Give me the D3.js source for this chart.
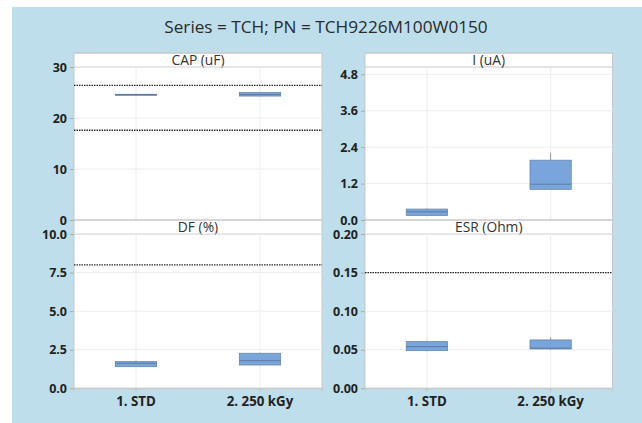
<!DOCTYPE html>
<html><head><meta charset="utf-8">
<script src="https://cdn.jsdelivr.net/npm/d3@7"></script>
<style>
html,body{margin:0;padding:0;background:#fff;}
svg{display:block;}
</style></head>
<body>
<script>
const title = "Series = TCH; PN = TCH9226M100W0150";
const categories = ["1. STD", "2. 250 kGy"];
const panelNames = ["CAP (uF)", "I (uA)", "DF (%)", "ESR (Ohm)"];
// box stats per category: [whiskerLow, q1, median, q3, whiskerHigh]
const capBox = [[24.45, 24.5, 24.57, 24.65, 24.7], [24.2, 24.3, 24.6, 25.0, 25.1]];
const iBox   = [[0.13, 0.15, 0.27, 0.36, 0.38], [1.0, 1.01, 1.18, 1.97, 2.21]];
const dfBox  = [[1.38, 1.40, 1.62, 1.73, 1.8], [1.5, 1.51, 1.79, 2.27, 2.3]];
const esrBox = [[0.048, 0.0488, 0.054, 0.0605, 0.062], [0.05, 0.051, 0.052, 0.0627, 0.066]];
const capTicks = [0, 10, 20, 30];
const iTicks = [0, 1.2, 2.4, 3.6, 4.8];
const dfTicks = [0, 2.5, 5, 7.5, 10];
const esrTicks = [0, 0.05, 0.10, 0.15, 0.20];
const capDomain = [0, 30], iDomain = [0, 5.04], dfDomain = [0, 10], esrDomain = [0, 0.2];
const capRef = [17.6, 26.4], iRef = [], dfRef = [8], esrRef = [0.15];

const W = 642, H = 423;
const FONT = "'Open Sans', 'Noto Sans', sans-serif";
const panels = [
  {name: panelNames[0], box: capBox, ticks: capTicks, dom: capDomain, ref: capRef, fmt: d3.format("d"), col: 0, row: 0},
  {name: panelNames[1], box: iBox, ticks: iTicks, dom: iDomain, ref: iRef, fmt: d3.format(".1f"), col: 1, row: 0},
  {name: panelNames[2], box: dfBox, ticks: dfTicks, dom: dfDomain, ref: dfRef, fmt: d3.format(".1f"), col: 0, row: 1},
  {name: panelNames[3], box: esrBox, ticks: esrTicks, dom: esrDomain, ref: esrRef, fmt: d3.format(".2f"), col: 1, row: 1}
];
const colX = [[74, 322], [365, 612.5]];
const rowY = [{head: 53, top: 67, bot: 220}, {head: 220, top: 234, bot: 388.3}];

const svg = d3.select("body").append("svg").attr("width", W).attr("height", H);
svg.append("rect").attr("x", 12).attr("y", 7).attr("width", W - 12).attr("height", H - 7).attr("fill", "#bddeea");
svg.append("text").attr("x", 326).attr("y", 33).attr("text-anchor", "middle")
  .attr("font-family", FONT).attr("font-size", 17.2).attr("fill", "#2b2b2b")
  .text(title);

colX.forEach(c => {
  svg.append("rect").attr("x", c[0]).attr("y", rowY[0].head).attr("width", c[1] - c[0])
    .attr("height", rowY[1].bot - rowY[0].head).attr("fill", "#fff").attr("stroke", "#c8c8c8").attr("stroke-width", 1);
});

panels.forEach(p => {
  const cx = colX[p.col], ry = rowY[p.row];
  const x = d3.scaleBand().domain(categories).range(cx).paddingInner(0).paddingOuter(0);
  const y = d3.scaleLinear().domain(p.dom).range([ry.bot, ry.top]);
  const g = svg.append("g");
  g.append("line").attr("x1", cx[0]).attr("x2", cx[1]).attr("y1", ry.top).attr("y2", ry.top).attr("stroke", "#c8c8c8");
  g.append("line").attr("x1", cx[0]).attr("x2", cx[1]).attr("y1", ry.head).attr("y2", ry.head).attr("stroke", "#c8c8c8");
  g.append("text").attr("x", (cx[0] + cx[1]) / 2).attr("y", ry.head + 11.5).attr("text-anchor", "middle")
    .attr("font-family", FONT).attr("font-size", 13.8).attr("fill", "#333").text(p.name);
  g.selectAll(".hg").data(p.ticks.filter(t => t > p.dom[0])).join("line")
    .attr("x1", cx[0]).attr("x2", cx[1]).attr("y1", d => y(d)).attr("y2", d => y(d)).attr("stroke", "#ececec");
  g.selectAll(".vg").data(categories).join("line")
    .attr("x1", d => x(d) + x.bandwidth() / 2).attr("x2", d => x(d) + x.bandwidth() / 2)
    .attr("y1", ry.top).attr("y2", ry.bot).attr("stroke", "#ececec");
  const ya = g.append("g").attr("transform", `translate(${cx[0]},0)`)
    .call(d3.axisLeft(y).tickValues(p.ticks).tickFormat(p.fmt).tickSize(4).tickPadding(3));
  ya.select(".domain").remove();
  ya.selectAll("line").attr("stroke", "#aaa");
  ya.selectAll("text").attr("font-family", FONT).attr("font-weight", "bold")
    .attr("font-size", 12.5).attr("fill", "#222");
  if (p.row === 1) {
    const xa = g.append("g").attr("transform", `translate(0,${ry.bot})`)
      .call(d3.axisBottom(x).tickSize(3).tickPadding(5));
    xa.select(".domain").attr("stroke", "#c8c8c8");
    xa.selectAll("line").attr("stroke", "#bbb");
    xa.selectAll("text").attr("font-family", FONT).attr("font-weight", "bold")
      .attr("font-size", 13.3).attr("fill", "#222");
  }
  g.append("line").attr("x1", cx[0]).attr("x2", cx[1]).attr("y1", ry.bot).attr("y2", ry.bot).attr("stroke", "#c8c8c8");
  g.selectAll(".ref").data(p.ref).join("line")
    .attr("x1", cx[0]).attr("x2", cx[1]).attr("y1", d => y(d)).attr("y2", d => y(d))
    .attr("stroke", "#2a2a2a").attr("stroke-width", 1.4).attr("stroke-dasharray", "1.5,1");
  const bw = x.bandwidth() / 3;
  const bd = categories.map((c, i) => ({c, s: p.box[i]}));
  const bg = g.selectAll(".bx").data(bd).join("g");
  bg.append("line").attr("x1", d => x(d.c) + x.bandwidth() / 2).attr("x2", d => x(d.c) + x.bandwidth() / 2)
    .attr("y1", d => y(d.s[3])).attr("y2", d => y(d.s[4])).attr("stroke", "#9a9a9a").attr("stroke-width", 1);
  bg.append("line").attr("x1", d => x(d.c) + x.bandwidth() / 2).attr("x2", d => x(d.c) + x.bandwidth() / 2)
    .attr("y1", d => y(d.s[0])).attr("y2", d => y(d.s[1])).attr("stroke", "#9a9a9a").attr("stroke-width", 1);
  bg.append("rect").attr("x", d => x(d.c) + x.bandwidth() / 2 - bw / 2).attr("width", bw)
    .attr("y", d => y(d.s[3])).attr("height", d => Math.max(1, y(d.s[1]) - y(d.s[3])))
    .attr("fill", "#79a5dc").attr("stroke", "#6a86a8").attr("stroke-width", 0.8);
  bg.append("line").attr("x1", d => x(d.c) + x.bandwidth() / 2 - bw / 2).attr("x2", d => x(d.c) + x.bandwidth() / 2 + bw / 2)
    .attr("y1", d => y(d.s[2])).attr("y2", d => y(d.s[2])).attr("stroke", "#56708f").attr("stroke-width", 0.8);
});
</script>
</body></html>
